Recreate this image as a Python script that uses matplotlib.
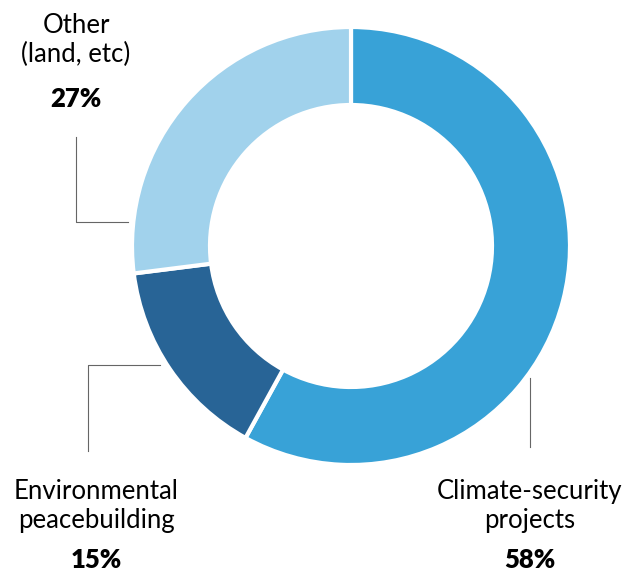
import matplotlib.pyplot as plt

labels = ['Climate-security\nprojects', 'Environmental\npeacebuilding', 'Other\n(land, etc)']
shares = [58, 15, 27]
colors = ['#38a2d7', '#286496', '#a1d2ec']

plt.rcParams['font.family'] = ['Lato', 'DejaVu Sans']

H = 574
fig = plt.figure(figsize=(6.3, 5.74), dpi=100)
ax = fig.add_axes([0, 0, 1, 1])

ax.pie(shares, colors=colors, startangle=90, counterclock=False,
       radius=219, center=(351, H - 246), frame=True,
       wedgeprops=dict(width=78, edgecolor='white', linewidth=3))
ax.set_xlim(0, 630)
ax.set_ylim(0, H)
ax.set_aspect('equal')
ax.axis('off')

lc = '#666666'
# leader lines
ax.plot([530, 530], [H - 378, H - 447], color=lc, lw=0.8)
ax.plot([160, 88, 88], [H - 365, H - 365, H - 451], color=lc, lw=0.8)
ax.plot([128, 76, 76], [H - 222, H - 222, H - 137], color=lc, lw=0.8)

fs = 18.5
ax.text(530, H - 506, labels[0], ha='center', va='center', fontsize=fs, linespacing=1.2)
ax.text(530, H - 560, f'{shares[0]}%', ha='center', va='center', fontsize=fs, fontweight='heavy')
ax.text(96, H - 506, labels[1], ha='center', va='center', fontsize=fs, linespacing=1.2)
ax.text(96, H - 560, f'{shares[1]}%', ha='center', va='center', fontsize=fs, fontweight='heavy')
ax.text(76, H - 40, labels[2], ha='center', va='center', fontsize=fs, linespacing=1.2)
ax.text(76, H - 99, f'{shares[2]}%', ha='center', va='center', fontsize=fs, fontweight='heavy')

fig.savefig('out.png', dpi=100)
